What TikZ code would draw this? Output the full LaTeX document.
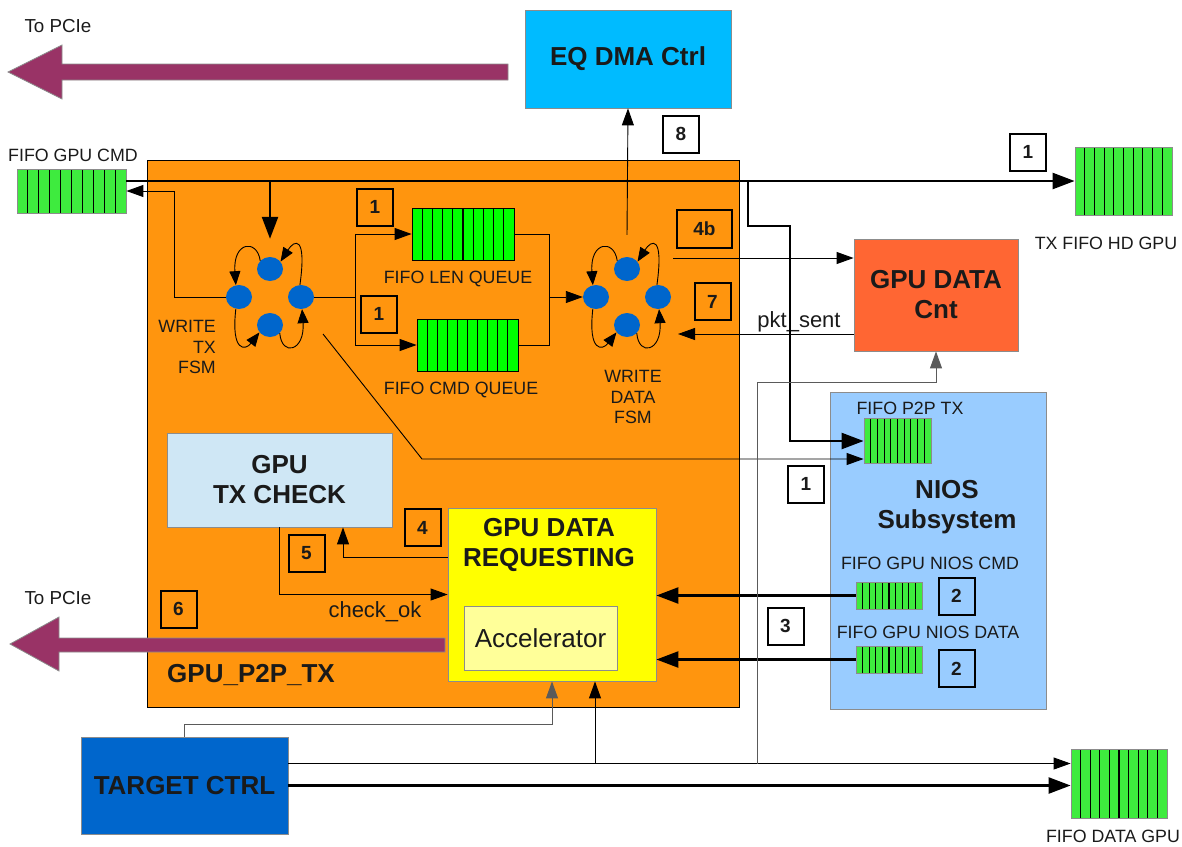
\documentclass[tikz,border=0pt]{standalone}
\usepackage{fontspec}
\setmainfont{Liberation Sans}
\usetikzlibrary{arrows.meta,calc,shapes.geometric}

\definecolor{pcie}{RGB}{153,51,102}
\definecolor{eqblue}{RGB}{0,187,255}
\definecolor{p2porange}{RGB}{255,149,14}
\definecolor{fifogreen}{RGB}{62,235,62}
\definecolor{queuegreen}{RGB}{0,255,0}
\definecolor{cntred}{RGB}{255,102,51}
\definecolor{checkblue}{RGB}{207,231,245}
\definecolor{reqyellow}{RGB}{255,255,0}
\definecolor{accyellow}{RGB}{255,255,153}
\definecolor{niosblue}{RGB}{153,204,255}
\definecolor{tgtblue}{RGB}{0,102,204}
\definecolor{fsmblue}{RGB}{0,102,204}
\definecolor{ink}{RGB}{26,26,26}
\definecolor{boxline}{RGB}{140,140,140}
\definecolor{wiregray}{RGB}{90,90,90}

\newcommand{\fBig}{\fontsize{26}{30}\selectfont\bfseries}
\newcommand{\fNum}{\fontsize{19}{22}\selectfont\bfseries}
\newcommand{\fLbl}{\fontsize{17.8}{20.5}\selectfont}
\newcommand{\fSig}{\fontsize{22}{26}\selectfont}
\newcommand{\fPcie}{\fontsize{18.8}{21}\selectfont}
\newcommand{\fAcc}{\fontsize{26}{30}\selectfont}

\begin{document}
\begin{tikzpicture}[x=1pt,y=-1pt,
  block/.style={draw=boxline,line width=0.8pt,inner sep=0pt,align=center,font=\fBig,text=ink},
  fifo/.style={draw=boxline,line width=0.8pt,fill=fifogreen,inner sep=0pt,
    path picture={\foreach \k in {1,...,9}{\draw[black,line width=1.1pt]
      ($(path picture bounding box.south west)!\k/10!(path picture bounding box.south east)$) --
      ($(path picture bounding box.north west)!\k/10!(path picture bounding box.north east)$);}}},
  queue/.style={fifo,draw=black,fill=queuegreen},
  lbl/.style={font=\fLbl,text=ink,inner sep=0pt,align=center},
  numbox/.style={draw=black,line width=2pt,minimum width=36pt,minimum height=37pt,inner sep=0pt,font=\fNum,text=ink},
  fsm/.style={ellipse,fill=fsmblue,minimum width=26pt,minimum height=24pt,inner sep=0pt},
  wire/.style={line width=0.9pt,draw=black},
  arr/.style={wire,-{Triangle[length=17pt,width=12pt]}},
  fatarr/.style={line width=2.4pt,draw=black,-{Triangle[length=22pt,width=16pt]}},
  looparr/.style={wire,-{Triangle[length=14pt,width=11pt]}},
  grayarr/.style={arr,draw=wiregray},
  pciearrow/.style={fill=pcie,draw=boxline,line width=0.8pt}
]
\useasboundingbox (0,0) rectangle (1182,846);

% ---- main GPU_P2P_TX block ----
\node[draw=black,line width=0.9pt,fill=p2porange,minimum width=592pt,minimum height=547pt,inner sep=0pt] (p2ptx) at (443,433.5) {};
\node[font=\fBig,text=ink,anchor=west,inner sep=0pt] (p2pname) at (167,675) {GPU\_P2P\_TX};

% ---- DMA controller and PCIe outputs ----
\node[block,fill=eqblue,minimum width=206pt,minimum height=98pt] (eq) at (628,59) {EQ DMA Ctrl};
\node[font=\fPcie,text=ink,inner sep=0pt] (pcieTxtA) at (58,26) {To PCIe};
\node[font=\fPcie,text=ink,inner sep=0pt] (pcieTxtB) at (58,598) {To PCIe};
\coordinate (pcieA) at (8,72);
\filldraw[pciearrow] (pcieA) -- ++(54,-27) -- ++(0,19) -- ++(446,0) -- ++(0,16) -- ++(-446,0) -- ++(0,19) -- cycle;
\coordinate (pcieB) at (10,644);
\filldraw[pciearrow] (pcieB) -- ++(49,-27) -- ++(0,21) -- ++(386,0) -- ++(0,14) -- ++(-386,0) -- ++(0,19) -- cycle;

% ---- FIFOs ----
\node[fifo,minimum width=109pt,minimum height=44pt] (gpucmd) at (71.5,191) {};
\node[lbl] (gpucmdT) at (73,155) {FIFO GPU CMD};
\node[fifo,minimum width=97pt,minimum height=68pt] (txhd) at (1123.5,181) {};
\node[lbl] (txhdT) at (1106,243) {TX FIFO HD GPU};
\node[queue,minimum width=102pt,minimum height=52pt] (lenq) at (463,234) {};
\node[lbl] (lenqT) at (458,279) {FIFO LEN QUEUE};
\node[queue,minimum width=101pt,minimum height=52pt] (cmdq) at (467.5,345) {};
\node[lbl] (cmdqT) at (461,390) {FIFO CMD QUEUE};
\node[fifo,minimum width=96pt,minimum height=69pt] (fdg) at (1119,783.5) {};
\node[lbl] (fdgT) at (1113,836) {FIFO DATA GPU};

% ---- state machines ----
\foreach \f/\cx in {t/270,d/627}{
  \node[fsm] (\f A) at (\cx,269) {};
  \node[fsm] (\f B) at (\cx-31,297) {};
  \node[fsm] (\f C) at (\cx+31,297) {};
  \node[fsm] (\f D) at (\cx,325) {};
  \draw[looparr] (\f A.140) .. controls +(-3,-22) and +(-3,-44) .. (\f B.105);
  \draw[looparr] (\f C.95) .. controls +(7,-50) and +(14,-22) .. (\f A.35);
  \draw[looparr] (\f B.255) .. controls +(-5,44) and +(-14,18) .. (\f D.215);
  \draw[looparr] (\f D.320) .. controls +(2,24) and +(3,42) .. (\f C.275);
}
\node[lbl,align=right,anchor=east] (txfsmT) at (216,347) {WRITE\\TX\\FSM};
\node[lbl] (datafsmT) at (633,397) {WRITE\\DATA\\FSM};

% ---- other blocks ----
\node[block,fill=cntred,minimum width=164pt,minimum height=112pt] (cnt) at (936,295) {GPU DATA\\Cnt};
\node[draw=boxline,line width=0.8pt,fill=niosblue,minimum width=216pt,minimum height=317pt,inner sep=0pt] (nios) at (938,550.5) {};
\node[font=\fBig,text=ink,align=center,inner sep=0pt] (niosT) at (947,507) {NIOS\\Subsystem};
\node[fifo,minimum width=67pt,minimum height=45pt] (p2p) at (897.5,441) {};
\node[lbl] (p2pT) at (910,408) {FIFO P2P TX};
\node[fifo,minimum width=66pt,minimum height=27pt] (niosc) at (889,595.5) {};
\node[lbl] (nioscT) at (930,563) {FIFO GPU NIOS CMD};
\node[fifo,minimum width=66pt,minimum height=27pt] (niosd) at (889,659.5) {};
\node[lbl] (niosdT) at (928,632) {FIFO GPU NIOS DATA};
\node[block,fill=checkblue,minimum width=225pt,minimum height=94pt] (chk) at (279.5,480) {GPU\\TX CHECK};
\node[draw=boxline,line width=0.8pt,fill=reqyellow,minimum width=208pt,minimum height=173pt,inner sep=0pt] (req) at (552,594.5) {};
\node[font=\fBig,text=ink,align=center,inner sep=0pt] (reqT) at (549,545) {GPU DATA\\REQUESTING};
\node[draw=boxline,line width=0.8pt,fill=accyellow,minimum width=153pt,minimum height=64pt,inner sep=0pt,font=\fAcc,text=ink] (acc) at (540.5,638) {Accelerator};
\node[block,fill=tgtblue,minimum width=207pt,minimum height=97pt] (tgt) at (184.5,785.5) {TARGET CTRL};

% ---- step numbers ----
\foreach \n/\x/\y/\t in {n1a/375/207/1, n1b/379/314/1, n1c/1028/152/1, n1d/806/484/1,
    n2a/956.5/596/2, n2b/956.5/668.5/2, n3/785.5/626/3, n4/422.5/527.5/4,
    n5/306.5/553.5/5, n6/178.5/609/6, n7/712.5/301.5/7, n8/681/134/8}
  \node[numbox] (\n) at (\x,\y) {\t};
\node[numbox,minimum width=55pt,minimum height=38pt] (n4b) at (704.5,229) {4b};

% ---- command path ----
\draw[fatarr] ([yshift=10pt]gpucmd.east) -- (txhd.west);
\coordinate (j1) at (270,181);
\draw[fatarr] (j1) -- ([yshift=18pt]tA.north);
\draw[arr] (tB.west) -- ++(-51,0) |- (gpucmd.east);
\draw[wire] (tC.east) -- ++(41,0) coordinate (s1);
\draw[arr] (s1) |- (lenq.west);
\draw[arr] (s1) |- (cmdq.west);
\coordinate (m1) at (549,297);
\draw[wire] (lenq.east) -| (m1);
\draw[wire] (cmdq.east) -| (m1);
\draw[arr] (m1) -- (dB.west);
\draw[arr] ([yshift=22pt]dA.north) -- (eq.south);
\coordinate (o1) at (673,258);
\draw[arr] (o1) -- (o1 -| cnt.west);
\coordinate (i7) at (678,334);
\draw[arr] (i7 -| cnt.west) -- (i7);
\node[font=\fSig,text=ink,inner sep=0pt] (pktT) at (799,322) {pkt\_sent};

% ---- P2P FIFO feeds ----
\coordinate (j2) at (748,181);
\draw[fatarr] (j2) -- (748,226) -- (790,226) |- (p2p.west);
\coordinate (d1) at (323,334);
\draw[arr] (d1) -- (422,459) -- ([yshift=-18pt]p2p.west);

% ---- data requesting ----
\draw[arr] ([yshift=37.5pt]req.west) -| ([xshift=63.5pt]chk.south);
\draw[arr] (chk.south) |- (req.west);
\node[font=\fSig,text=ink,inner sep=0pt] (okT) at (375,612) {check\_ok};
\draw[fatarr] (niosc.west) -- (req.east |- niosc.west);
\draw[fatarr] (niosd.west) -- (req.east |- niosd.west);

% ---- target controller ----
\draw[fatarr] (tgt.east) -- (tgt.east -| fdg.west);
\coordinate (tgtU) at ([yshift=22pt]tgt.east);
\draw[arr] (tgtU) -- (tgtU -| fdg.west);
\coordinate (rq2) at ([xshift=43pt]req.south);
\draw[arr] (tgtU -| rq2) -- (rq2);
\coordinate (v1) at (757,382);
\draw[grayarr] (tgtU -| v1) -- (v1) -| (cnt.south);
\draw[grayarr] (tgt.north) -- ++(0,-12) -| (req.south);
\end{tikzpicture}
\end{document}
